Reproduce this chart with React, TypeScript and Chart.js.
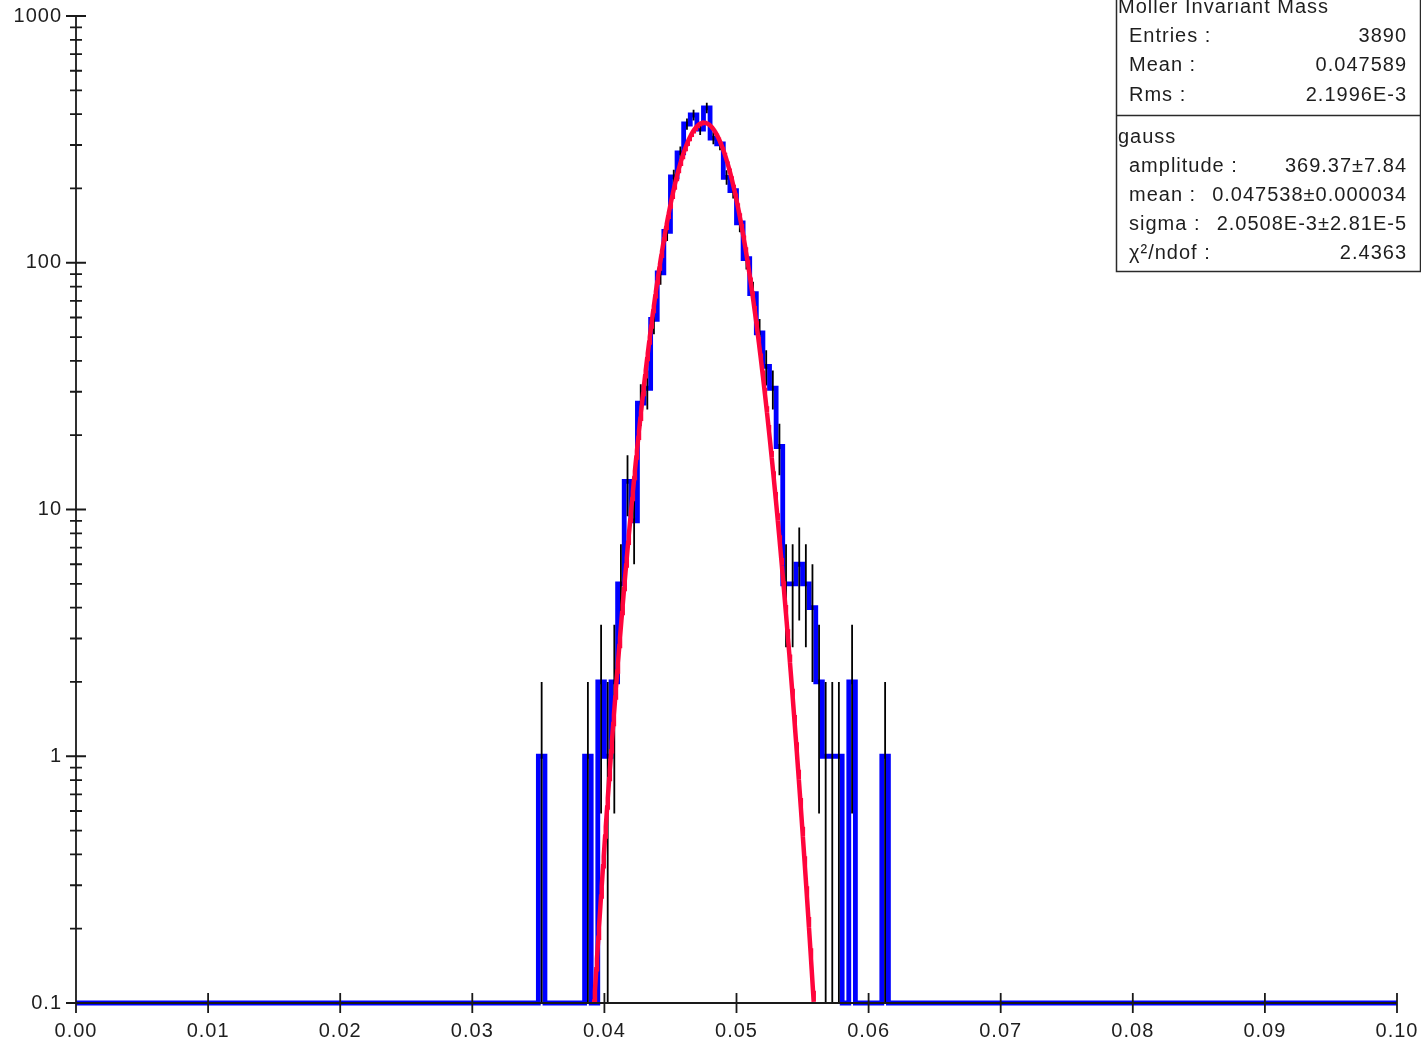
import { useEffect, useRef } from 'react';
import { Chart, registerables } from 'chart.js';

Chart.register(...registerables);

// ---- histogram definition ----
const X_MIN = 0.0;
const X_MAX = 0.1;
const BIN_WIDTH = 0.0005;
const firstBinLow = 0.035; // lower edge of the first listed bin
// counts for consecutive bins starting at firstBinLow (all other bins are empty)
const binCounts = [
  1, 0, 0, 0, 0, 0, 0, 1, 0, 2,
  1, 2, 5, 13, 9, 27, 31, 59, 91, 134,
  223, 279, 365, 397, 348, 424, 320, 303, 222, 196,
  145, 104, 75, 52, 38, 31, 18, 5, 5, 6,
  5, 4, 2, 1, 1, 1, 0, 2, 0, 0,
  0, 0, 1,
];

// ---- gaussian fit (from the stats box) ----
const fitAmplitude = 369.37;
const fitMean = 0.047538;
const fitSigma = 0.0020508;

// ---- axes ----
const Y_MIN = 0.1;
const Y_MAX = 1000;
const xTickValues = [0, 0.01, 0.02, 0.03, 0.04, 0.05, 0.06, 0.07, 0.08, 0.09, 0.1];
const xTickLabels = ['0.00', '0.01', '0.02', '0.03', '0.04', '0.05', '0.06', '0.07', '0.08', '0.09', '0.10'];
const yMajorTicks = [0.1, 1, 10, 100, 1000];
const yTickLabels = ['0.1', '1', '10', '100', '1000'];
const yMinorMultipliers = [2, 3, 4, 5, 6, 7, 8, 9];

// ---- stats box ----
const statsTitle = 'Moller Invariant Mass';
const statsLabels = ['Entries :', 'Mean :', 'Rms :'];
const statsValues = ['3890', '0.047589', '2.1996E-3'];
const fitTitle = 'gauss';
const fitLabels = ['amplitude :', 'mean :', 'sigma :', 'χ²/ndof :'];
const fitValues = ['369.37±7.84', '0.047538±0.000034', '2.0508E-3±2.81E-5', '2.4363'];

const FONT_FAMILY = '"Liberation Sans", Arial, sans-serif';
const TEXT_COLOR = '#1e1e1e';
const HIST_COLOR = '#0000ff';
const FIT_COLOR = 'rgb(255, 5, 60)';

function allBins(): number[] {
  const n = Math.round((X_MAX - X_MIN) / BIN_WIDTH);
  const start = Math.round((firstBinLow - X_MIN) / BIN_WIDTH);
  const arr = new Array(n).fill(0);
  binCounts.forEach((c, i) => {
    arr[start + i] = c;
  });
  return arr;
}

function histPoints() {
  const bins = allBins();
  const pts = bins.map((c, i) => ({ x: X_MIN + i * BIN_WIDTH, y: c > 0 ? c : Y_MIN }));
  const last = bins[bins.length - 1];
  pts.push({ x: X_MAX, y: last > 0 ? last : Y_MIN });
  return pts;
}

function fitPoints() {
  const pts: { x: number; y: number }[] = [];
  const lo = fitMean - 5 * fitSigma;
  const hi = fitMean + 5 * fitSigma;
  const n = 400;
  for (let i = 0; i <= n; i++) {
    const x = lo + ((hi - lo) * i) / n;
    const z = (x - fitMean) / fitSigma;
    pts.push({ x, y: fitAmplitude * Math.exp(-0.5 * z * z) });
  }
  return pts;
}

function isMajor(v: number) {
  return yMajorTicks.some((t) => Math.abs(t - v) < t * 1e-6);
}

function zeroScalePadding(s: any) {
  s.paddingLeft = 0;
  s.paddingRight = 0;
  s.paddingTop = 0;
  s.paddingBottom = 0;
}

const rootPlugin = {
  id: 'rootStyle',
  beforeDraw(chart: any) {
    const ctx = chart.ctx;
    ctx.fillStyle = '#ffffff';
    ctx.fillRect(0, 0, chart.width, chart.height);
    try {
      ctx.letterSpacing = '1px';
    } catch (e) {}
  },
  afterDatasetDraw(chart: any, args: any) {
    if (args.index !== 0) return;
    const { ctx, chartArea } = chart;
    const xs = chart.scales.x;
    const ys = chart.scales.y;
    ctx.save();
    ctx.strokeStyle = '#000000';
    ctx.lineWidth = 1.8;
    ctx.beginPath();
    binCounts.forEach((c, i) => {
      if (c <= 0) return;
      const center = firstBinLow + (i + 0.5) * BIN_WIDTH;
      const px = xs.getPixelForValue(center);
      const err = Math.sqrt(c);
      const top = Math.max(ys.getPixelForValue(c + err), chartArea.top);
      const lo = c - err;
      const bot = lo > Y_MIN ? ys.getPixelForValue(lo) : chartArea.bottom;
      ctx.moveTo(px, top);
      ctx.lineTo(px, bot);
    });
    ctx.stroke();
    ctx.restore();
  },
  afterDatasetsDraw(chart: any) {
    const { ctx, chartArea } = chart;
    const xs = chart.scales.x;
    const ys = chart.scales.y;
    const L = chartArea.left;
    const B = chartArea.bottom;
    ctx.save();
    ctx.strokeStyle = '#1a1a1a';
    ctx.lineWidth = 1.8;
    ctx.beginPath();
    ctx.moveTo(L, chartArea.top);
    ctx.lineTo(L, B);
    ctx.moveTo(L, B);
    ctx.lineTo(chartArea.right, B);
    xTickValues.forEach((v) => {
      const px = xs.getPixelForValue(v);
      ctx.moveTo(px, B - 10);
      ctx.lineTo(px, B + 10);
    });
    ys.ticks.forEach((t: any) => {
      const py = ys.getPixelForValue(t.value);
      const len = isMajor(t.value) ? 10 : 6;
      ctx.moveTo(L - len, py);
      ctx.lineTo(L + len, py);
    });
    ctx.stroke();
    ctx.restore();
  },
  afterDraw(chart: any) {
    const ctx = chart.ctx;
    const boxL = 1116.5;
    const boxR = 1420.5;
    const boxB = 271.5;
    const divY = 115.5;
    ctx.save();
    ctx.fillStyle = '#ffffff';
    ctx.fillRect(boxL, -5, boxR - boxL, boxB + 5);
    ctx.strokeStyle = '#2a2a2a';
    ctx.lineWidth = 1.5;
    ctx.beginPath();
    ctx.moveTo(boxL, -5);
    ctx.lineTo(boxL, boxB);
    ctx.lineTo(boxR, boxB);
    ctx.lineTo(boxR, -5);
    ctx.moveTo(boxL, divY);
    ctx.lineTo(boxR, divY);
    ctx.stroke();

    ctx.fillStyle = TEXT_COLOR;
    ctx.font = `20px ${FONT_FAMILY}`;
    try {
      ctx.letterSpacing = '1px';
    } catch (e) {}
    ctx.textBaseline = 'alphabetic';
    const labelX = 1129;
    const valueX = 1407;
    ctx.textAlign = 'left';
    ctx.fillText(statsTitle, 1118, 13);
    statsLabels.forEach((lab, i) => {
      const by = 42 + i * 29.3;
      ctx.textAlign = 'left';
      ctx.fillText(lab, labelX, by);
      ctx.textAlign = 'right';
      ctx.fillText(statsValues[i], valueX, by);
    });
    ctx.textAlign = 'left';
    ctx.fillText(fitTitle, 1118, 142.5);
    fitLabels.forEach((lab, i) => {
      const by = 171.5 + i * 29.3;
      ctx.textAlign = 'left';
      ctx.fillText(lab, labelX, by);
      ctx.textAlign = 'right';
      ctx.fillText(fitValues[i], valueX, by);
    });
    ctx.restore();
  },
};

export default function App() {
  const canvasRef = useRef<HTMLCanvasElement | null>(null);

  useEffect(() => {
    const canvas = canvasRef.current;
    if (!canvas) return;
    const chart = new Chart(canvas, {
      type: 'line',
      data: {
        datasets: [
          {
            label: 'Moller Invariant Mass',
            data: histPoints(),
            borderColor: HIST_COLOR,
            backgroundColor: HIST_COLOR,
            borderWidth: 4.8,
            stepped: 'before',
            pointRadius: 0,
            fill: false,
            order: 1,
            clip: false,
            borderJoinStyle: 'miter',
          },
          {
            label: 'gauss',
            data: fitPoints(),
            borderColor: FIT_COLOR,
            backgroundColor: FIT_COLOR,
            borderWidth: 4.5,
            pointRadius: 0,
            fill: false,
            order: 0,
            tension: 0,
          },
        ],
      } as any,
      options: {
        animation: false,
        responsive: false,
        devicePixelRatio: 1,
        events: [],
        layout: { padding: { top: 16, right: 24, left: 0, bottom: 0 } },
        plugins: {
          legend: { display: false },
          tooltip: { enabled: false },
          title: { display: false },
        },
        scales: {
          x: {
            type: 'linear',
            min: X_MIN,
            max: X_MAX,
            afterBuildTicks: (s: any) => {
              s.ticks = xTickValues.map((v) => ({ value: v }));
            },
            afterFit: (s: any) => {
              s.height = 41;
              zeroScalePadding(s);
            },
            grid: { display: false, drawTicks: false },
            border: { display: false },
            ticks: {
              autoSkip: false,
              maxRotation: 0,
              padding: 16,
              color: TEXT_COLOR,
              font: { family: FONT_FAMILY, size: 20 },
              callback: (_v: any, i: number) => xTickLabels[i],
            },
          },
          y: {
            type: 'logarithmic',
            min: Y_MIN,
            max: Y_MAX,
            afterBuildTicks: (s: any) => {
              const ticks: { value: number }[] = [];
              yMajorTicks.forEach((m, k) => {
                ticks.push({ value: m });
                if (k < yMajorTicks.length - 1) {
                  yMinorMultipliers.forEach((mm) => ticks.push({ value: m * mm }));
                }
              });
              s.ticks = ticks;
            },
            afterFit: (s: any) => {
              s.width = 76;
              zeroScalePadding(s);
            },
            grid: { display: false, drawTicks: false },
            border: { display: false },
            ticks: {
              autoSkip: false,
              padding: 14,
              color: TEXT_COLOR,
              font: { family: FONT_FAMILY, size: 20 },
              callback: (v: any) => {
                const idx = yMajorTicks.findIndex((t) => Math.abs(t - v) < t * 1e-6);
                return idx >= 0 ? yTickLabels[idx] : '';
              },
            },
          },
        },
      } as any,
      plugins: [rootPlugin as any],
    });
    return () => chart.destroy();
  }, []);

  return (
    <div
      style={{
        position: 'fixed',
        left: 0,
        top: 0,
        width: 1421,
        height: 1044,
        background: '#ffffff',
      }}
    >
      <canvas ref={canvasRef} width={1421} height={1044} style={{ display: 'block' }} />
    </div>
  );
}
